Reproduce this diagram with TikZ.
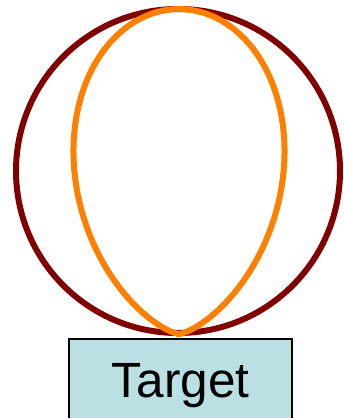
\documentclass[tikz,border=0pt]{standalone}
\usepackage{fontspec}
\setmainfont{Liberation Sans}
\definecolor{ringred}{HTML}{800000}
\definecolor{lobeorange}{HTML}{FF8000}
\definecolor{boxfill}{HTML}{BBE0E3}
\begin{document}
\begin{tikzpicture}[x=1pt,y=1pt,
  ring/.style={draw=ringred,line width=6pt},
  lobe/.style={draw=lobeorange,line width=6pt,line join=round},
  targetbox/.style={draw=black,line width=2pt,fill=boxfill,rectangle,
    minimum width=223.5pt,minimum height=84.5pt,anchor=north,
    text height=34pt,text depth=1.5pt,inner sep=0pt,
    font=\fontsize{49.5}{52}\selectfont}]
\useasboundingbox (0,0) rectangle (343,418);
\clip (0,0) rectangle (343,418);
\coordinate (ringc) at (178,247);
\coordinate (lobeo) at (179,84);
\draw[ring] (ringc) circle (162);
\draw[lobe] plot[domain=0:180,samples=240,smooth]
  ({179+325*sin(\x)^3*cos(\x)},{84+325*sin(\x)^4}) -- cycle;
\node[targetbox] (target) at (180.5,79.5) {Target};
\end{tikzpicture}
\end{document}
